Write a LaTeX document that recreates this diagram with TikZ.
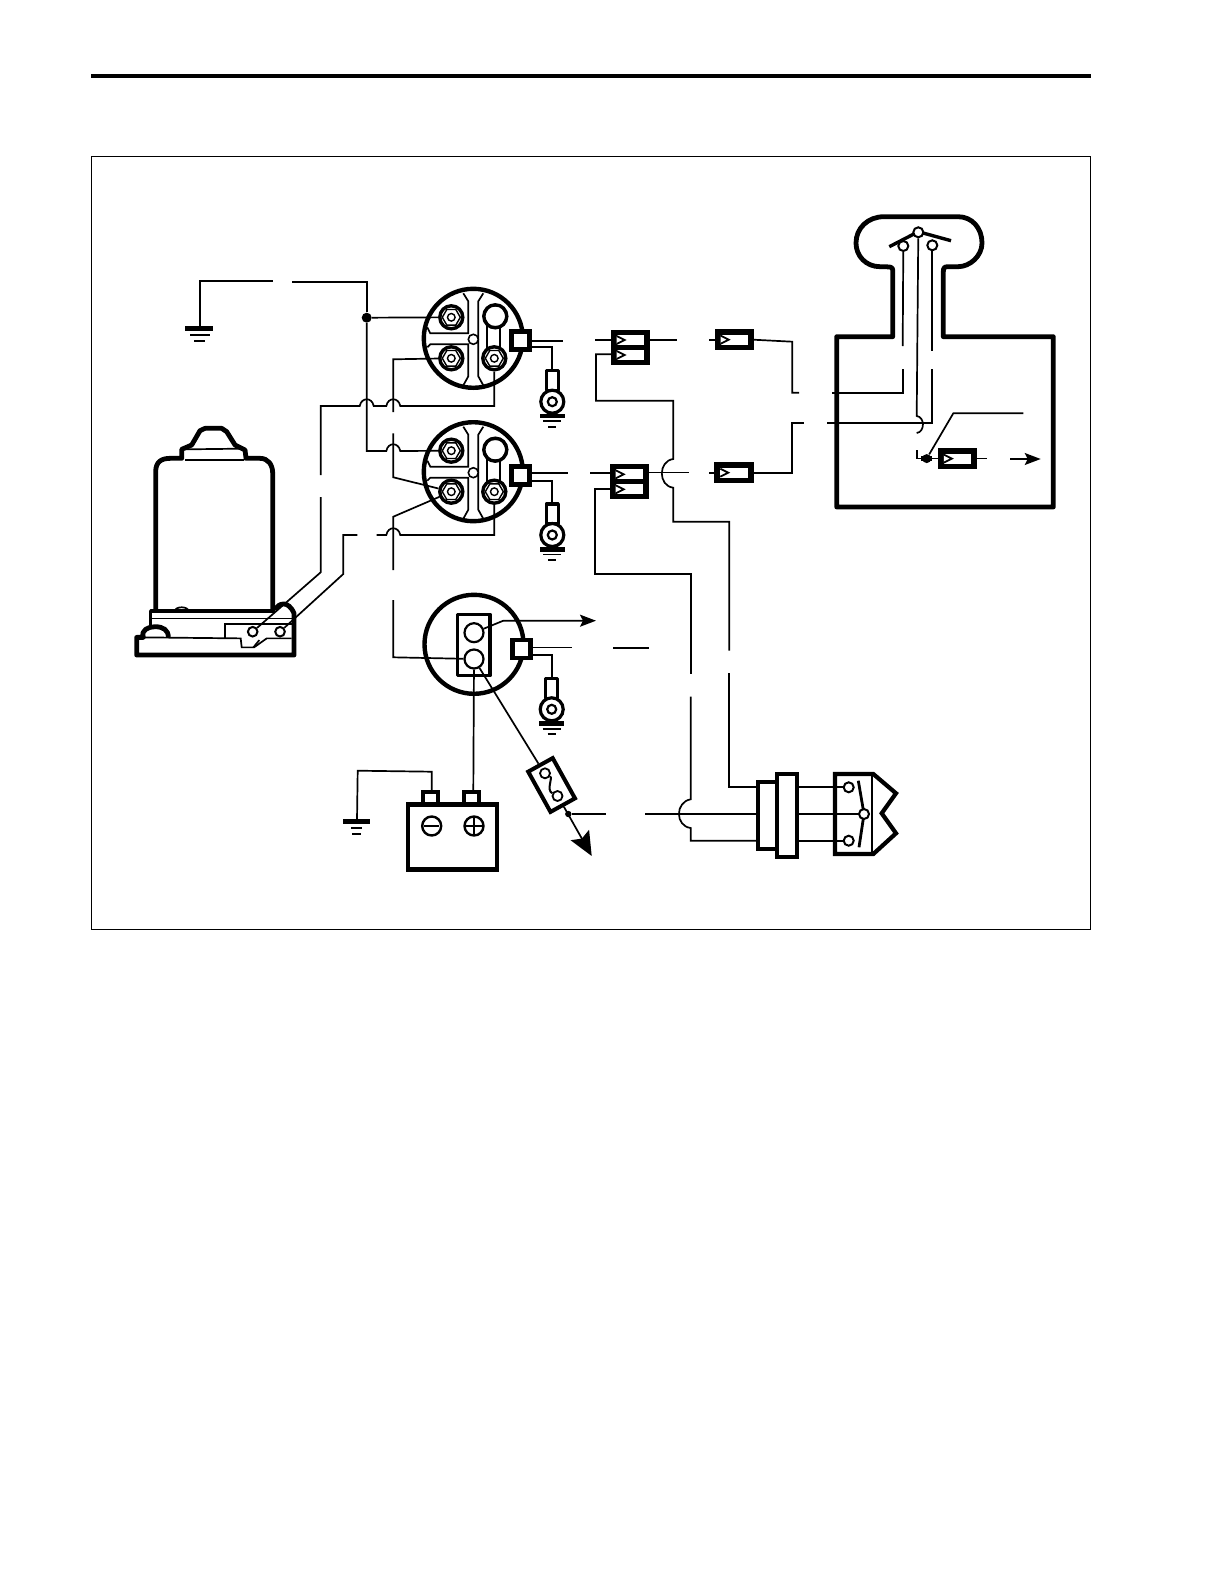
\documentclass[tikz,border=0pt]{standalone}
\usetikzlibrary{arrows.meta,shapes.geometric}
\tikzset{
  wire/.style={line width=0.85pt,line join=miter},
  thinl/.style={line width=0.6pt},
  heavy/.style={line width=2.4pt,line join=round},
  medl/.style={line width=1.7pt,line join=round},
  dotn/.style={circle,fill=black,inner sep=0pt,minimum size=5pt},
  sqbox/.style={draw,line width=2.4pt,fill=white,inner sep=0pt,minimum size=9pt},
  nut/.style={circle,draw,line width=1.7pt,fill=white,inner sep=0pt,minimum size=11.5pt},
  hexn/.style={regular polygon,regular polygon sides=6,draw,line width=0.7pt,inner sep=0pt,minimum size=9pt},
  smallc/.style={circle,draw,line width=0.8pt,fill=white,inner sep=0pt,minimum size=5pt},
  holec/.style={circle,draw,line width=1pt,fill=white,inner sep=0pt,minimum size=5pt},
  plugbox/.style={draw,fill=black,inner sep=0pt,line width=0pt},
  smallarrow/.style={-{Stealth[length=8pt,width=6pt,inset=1.5pt]}},
  bigarrow/.style={-{Stealth[length=12pt,width=10.5pt,inset=2pt]}},
}
% one nut-type terminal
\newcommand{\nutat}[3]{%
  \node[nut] (#1) at (#2,#3) {};
  \node[hexn] at (#2,#3) {};
  \node[circle,draw,line width=0.7pt,inner sep=0pt,minimum size=3.8pt] at (#2,#3) {};
}
% round solenoid with four terminals
\newcommand{\solenoid}[3]{%
  \begin{scope}[shift={(#2,#3)}]
    \node[circle,draw,line width=2.2pt,fill=white,inner sep=0pt,minimum size=49.5pt] (#1) at (0,0) {};
    \draw[wire] (-10,-45) -- (-5,-37) -- (-5,-5) -- (-43,-5) -- (-46,-11);
    \draw[wire] (-46,9) -- (-43,6) -- (-5,6) -- (-5,38) -- (-10,47);
    \draw[wire] (10,-45) -- (5,-37) -- (5,38) -- (10,47);
    \draw[wire] (14,-13) -- (14,14) (27,-13) -- (27,14);
    \node[smallc] at (0,1) {};
    \nutat{#1nw}{-22}{-21}
    \nutat{#1sw}{-22}{20}
    \nutat{#1se}{21}{20}
    \node[nut] (#1ne) at (22,-22) {};
    \node[regular polygon,regular polygon sides=6,draw,line width=0.8pt,inner sep=0pt,minimum size=12pt] at (22,-22) {};
  \end{scope}
}
% ground lug: centre x, top y
\newcommand{\lugat}[3]{%
  \begin{scope}[shift={(#2,#3)}]
    \draw[medl,fill=white] (-6,0) rectangle (6,20);
    \node[circle,draw,line width=1.6pt,fill=white,inner sep=0pt,minimum size=11.5pt] (#1) at (0,31) {};
    \node[circle,draw,line width=1.1pt,inner sep=0pt,minimum size=4.5pt] at (0,31) {};
    \fill (-12.5,43) rectangle (12.5,47.5);
    \draw[wire] (-9,50.5) -- (9,50.5) (-4,56) -- (4,56);
  \end{scope}
}
% single inline connector
\newcommand{\chev}[2]{\draw[line width=0.9pt,fill=white] (#1,#2-4) -- (#1+8,#2) -- (#1,#2+4);}
\newcommand{\plugone}[3]{%
  \node[plugbox,minimum width=19.2pt,minimum height=10pt] (#1) at (#2,#3) {};
  \fill[white] (#2-13.5,#3-5) rectangle (#2+14,#3+5);
  \chev{#2-13.5}{#3}
}
% double inline connector
\newcommand{\plugtwo}[3]{%
  \node[plugbox,minimum width=19.2pt,minimum height=17pt] (#1) at (#2,#3) {};
  \fill[white] (#2-13.5,#3-12) rectangle (#2+14,#3-2.5);
  \fill[white] (#2-13.5,#3+3) rectangle (#2+14,#3+13);
  \chev{#2-13.5}{#3-7}
  \chev{#2-13.5}{#3+8}
}
\begin{document}
\begin{tikzpicture}[x=0.5pt,y=-0.5pt]
\useasboundingbox (0,0) rectangle (1224,1584);
% page rule and frame
\coordinate (rl) at (91,76); \coordinate (rr) at (1091,76);
\draw[line width=2pt] (rl) -- (rr);
\draw[thinl] (91.5,156.7) rectangle (1090.5,929.3);

% ---- devices
\solenoid{sa}{473.3}{338.3}
\solenoid{sb}{473.3}{471.7}
\node[sqbox] (sqa) at (520.7,340.7) {};
\node[sqbox] (sqb) at (520.7,475.7) {};
\lugat{luga}{552.3}{370.7}
\lugat{lugb}{552.3}{504}
\lugat{lugc}{551.7}{678.3}

% third solenoid
\node[circle,draw,line width=2.2pt,fill=white,inner sep=0pt,minimum size=49.5pt] (sc) at (474,644.3) {};
\draw[medl,fill=white] (457.7,614.3) rectangle (490,675.7);
\node[circle,draw,line width=1.1pt,fill=white,inner sep=0pt,minimum size=9.5pt] (sct) at (474,632.7) {};
\node[circle,draw,line width=1.1pt,fill=white,inner sep=0pt,minimum size=9.5pt] (scb) at (474,659) {};
\node[sqbox] (sqc) at (521.7,649) {};

% battery
\draw[line width=1.9pt,fill=white] (423.3,792) rectangle (438.3,804);
\draw[line width=1.9pt,fill=white] (464,792) rectangle (479.3,804);
\node[draw,line width=2.3pt,fill=white,minimum width=44.5pt,minimum height=32.5pt,inner sep=0pt] (bat) at (452.5,837) {};
\coordinate (batn) at (431.7,792); \coordinate (batp) at (473.3,792);
\node[circle,draw,line width=1.2pt,inner sep=0pt,minimum size=9.5pt] (minus) at (431.7,826) {};
\node[circle,draw,line width=1.2pt,inner sep=0pt,minimum size=9.5pt] (plus) at (474,826) {};
\draw[wire] (424,826) -- (439,826) (466,826) -- (482,826) (474,818) -- (474,834);

% fuse
\node[draw,line width=2pt,fill=white,minimum width=23pt,minimum height=14pt,inner sep=0pt,rotate=-61] (fuse) at (551.6,785) {};
\node[circle,draw,line width=0.9pt,fill=white,inner sep=0pt,minimum size=5pt] (fa) at (545,773.3) {};
\node[circle,draw,line width=0.9pt,fill=white,inner sep=0pt,minimum size=5pt] (fb) at (557.5,796) {};
\draw[line width=1pt] (fa) .. controls (553,778) and (546,790) .. (fb);

% plugs
\plugtwo{pa}{630.2}{347}
\plugtwo{pb}{629.2}{481.3}
\plugone{pc}{734.2}{339.7}
\plugone{pd}{733.8}{472.7}
\plugone{pe}{957.3}{458.6}

% terminal blocks
\draw[line width=2.1pt,fill=white] (757.7,782.3) rectangle (776.7,849);
\node[draw,line width=2.1pt,fill=white,minimum width=10pt,minimum height=41.5pt,inner sep=0pt] (tb) at (786.7,815.8) {};
\coordinate (tbl1) at (757.7,787.3); \coordinate (tbl2) at (757.7,814); \coordinate (tbl3) at (757.7,840.7);

% rocker switch
\draw[line width=2.1pt,line join=miter,fill=white] (835,774) -- (873.3,774) -- (896,793.3) -- (881.7,813.3) -- (896,833.3) -- (873.3,854) -- (835,854) -- cycle;
\draw[wire] (872.3,774) -- (872.3,854);
\draw[line width=1.4pt] (858.3,780.7) -- (864,814) -- (859,847.3);
\draw[wire] (798,787.3) -- (844,787.3) (798,840.7) -- (844,840.7) (798,814) -- (860,814);
\node[holec] (swa) at (848.7,787.3) {};
\node[holec] (swb) at (848.7,840.7) {};
\node[holec] (swc) at (864,814) {};

% control box
\draw[heavy] (892.7,336.7) -- (892.7,270) .. controls (892.7,266.7) and (890,266.7) .. (880,266.7)
  .. controls (866,266.7) and (856,256) .. (856,243) .. controls (856,228) and (868,216.7) .. (884,216.7)
  -- (958,216.7) .. controls (972,216.7) and (982,228) .. (982,243) .. controls (982,256) and (970,266.7) .. (958,266.7)
  -- (948,266.7) .. controls (944,266.7) and (943.3,268) .. (943.3,272) -- (943.3,336.7)
  -- (1053.3,336.7) -- (1053.3,507) -- (836.7,507) -- (836.7,336.7) -- cycle;
\draw[line width=1.7pt] (889.3,246.7) -- (918.3,231.7) -- (951,240.7);
\node[holec] (ca) at (903.3,246) {};
\node[holec] (cb) at (918.3,232.3) {};
\node[holec] (cc) at (932.3,245.3) {};
\node[circle,fill=black,inner sep=0pt,minimum size=4.5pt] (cd) at (926.7,458.6) {};
\draw[line width=2.2pt] (921,458.6) -- (932,458.6);

% motor
\begin{scope}[shift={(120,410)},x=0.1667pt,y=-0.1667pt]
  \draw[heavy] (107,605) -- (107,185) .. controls (107,155) and (125,145) .. (150,145) -- (185,145) -- (185,118) -- (215,105)
    -- (240,62) -- (255,55) -- (305,55) -- (320,65) -- (345,105) -- (375,120) -- (378,145)
    -- (420,145) .. controls (445,145) and (458,165) .. (458,190) -- (458,600);
  \draw[wire] (195,150) -- (372,150) (195,118) -- (365,116);
  \draw[medl] (92,650) -- (92,603) -- (465,603);
  \draw[wire] (97,625) -- (520,625);
  \draw[wire] (165,603) .. controls (165,588) and (205,588) .. (205,603);
  \draw[heavy] (465,600) .. controls (475,578) and (505,570) .. (522,610) -- (522,735) -- (50,735) -- (50,682) -- (70,682)
    .. controls (62,660) and (85,650) .. (105,650) .. controls (130,650) and (145,660) .. (145,682);
  \draw[wire] (70,682) -- (362,685) -- (365,712) -- (402,712) -- (440,685) -- (515,685);
  \draw[wire] (315,685) -- (315,642) -- (520,642);
  \draw[wire] (418,690) -- (400,712);
  \node[holec,minimum size=4.8pt] (ma) at (398,665) {};
  \node[holec,minimum size=4.8pt] (mb) at (480,665) {};
\end{scope}

% ---- free ends and junctions
\node[dotn] (ja) at (366.7,317.7) {};
\node[dotn,minimum size=3.2pt] (jb) at (568.3,814) {};
\coordinate (gnda) at (200,326.7);
\coordinate (gnab) at (273.3,280.7);
\coordinate (gnac) at (292.3,281.7);
\coordinate (gndb) at (357,820);

% ground symbols (top left and battery)
\fill (185,325.7) rectangle (213.3,331);
\draw[wire] (190,335) -- (210,335) (194.3,340.7) -- (205,340.7);
\fill (343.3,819.3) rectangle (370,824);
\draw[wire] (351,828.3) -- (362,828.3) (352,834) -- (361,834);

% ---- wiring
\draw[wire] (gnda) -- (200,280.7) -- (gnab);
\draw[wire] (gnac) -- (366.7,281.7) -- (ja);
\draw[wire] (ja) -- (sanw);
\draw[wire] (ja) -- (366.7,451) -- (386.3,451) .. controls (388,442) and (398.5,442) .. (400.3,451) -- (sbnw);
\draw[wire] (sasw) -- (393.3,359.3) -- (393.3,412);
\coordinate (vb) at (393.3,433.3);
\draw[wire] (vb) -- (393.3,477.3) -- (sbsw);
\draw[wire] (sbsw) -- (393.3,516.7) -- (393.3,570);
\draw[wire] (393.3,600) -- (393.3,657.3) -- (scb);
% upper common wire to motor
\draw[wire] (sase) -- (494.3,406) -- (400.3,406) .. controls (398.5,397) and (388,397) .. (386.3,406)
  -- (373.7,406) .. controls (372,397) and (361.5,397) .. (359.7,406) -- (320.7,406) -- (320.7,475);
\draw[wire] (320.7,497) -- (320.7,572.3) -- (ma);
% lower common wire to motor
\draw[wire] (sbse) -- (494.3,535) -- (400.3,535) .. controls (398.5,526) and (388,526) .. (386.3,535) -- (376.7,535);
\draw[wire] (357.3,535) -- (343.3,535) -- (343.3,574) -- (mb);
% solenoid control wires
\draw[wire] ([yshift=0pt]sqa.east) -- (562.7,340.7);
\draw[wire] (595,340) -- (pa.west|-595,340);
\draw[wire] (pa.east|-649,340) -- (676.7,340);
\draw[wire] (709.3,340) -- (pc.west|-715,340);
\draw[wire] (pc.east) -- (792.3,341.7) -- (792.3,392.7) -- (799,392.7);
\draw[wire] (531.7,347.3) -- (552.3,347.3) -- (552.3,370.7);
\draw[wire] (sqb.east|-532,472.7) -- (567.7,472.7);
\draw[wire] (590,473.3) -- (pb.west|-610,473.3);
\draw[wire] (pb.east|-648,472.5) -- (689,472.5);
\draw[wire] (709.3,472.7) -- (pd.west);
\draw[wire] (pd.east) -- (791.7,472.7) -- (791.7,422.7) -- (804,422.7);
\draw[wire] (531.7,480.7) -- (552.3,480.7) -- (552.3,504);
% switch feeds
\draw[wire] (pa.west|-611,354.3) -- (596,354.3) -- (596,400.7) -- (673.3,400.7) -- (673.3,459)
  .. controls (658,461) and (658,486) .. (673.3,487.7) -- (673.3,521.7) -- (729.3,521.7) -- (729.3,650.7);
\draw[wire] (729.3,673.3) -- (729.3,787.3) -- (tbl1);
\draw[wire] (pb.west|-610,488.7) -- (595,488.7) -- (595,574.3) -- (690.7,574.3) -- (690.7,674.3);
\draw[wire] (690.7,696.7) -- (690.7,799.3) .. controls (675,802) and (675,826) .. (690.7,828) -- (690.7,840.7) -- (tbl3);
% third solenoid wires
\draw[wire,smallarrow] (sct) -- (503.3,620.7) -- (596,620.7);
\draw[wire] (sqc.east|-532,647.5) -- (571.7,647.5);
\draw[wire] (613.3,647.7) -- (649,647.7);
\draw[wire] (532,655) -- (551.7,655) -- (551.7,678.3);
% battery wires
\draw[wire] (scb) -- (batp);
\draw[wire] (gndb) -- (357.7,770.7) -- (431.7,771.7) -- (batn);
% fuse wires
\draw[wire] (scb) -- (fuse);
\draw[wire,bigarrow] (fuse) -- (591.7,856);
\draw[wire] (jb) -- (606,814);
\draw[wire] (645,814) -- (tbl2);
% control box wires
\draw[wire] (ca) -- (902.7,346);
\draw[wire] (902.7,369) -- (902.7,393.3) -- (831.7,393.3);
\draw[wire] (cb) -- (916.7,416) .. controls (925,417) and (925,432) .. (916.7,433);
\draw[wire] (cc) -- (932.3,350.7);
\draw[wire] (932.3,369.3) -- (932.3,422.7) -- (826.7,422.7);
\draw[wire] (916.7,450) -- (916.7,458.6) -- (cd);
\draw[wire] (cd) -- (953.3,413.3) -- (1023.3,413.3);
\draw[wire] (cd) -- (pe.west);
\draw[wire] (pe.east) -- (986.7,458.6);
\draw[wire,smallarrow] (1010,459) -- (1040.7,459);
\end{tikzpicture}
\end{document}
